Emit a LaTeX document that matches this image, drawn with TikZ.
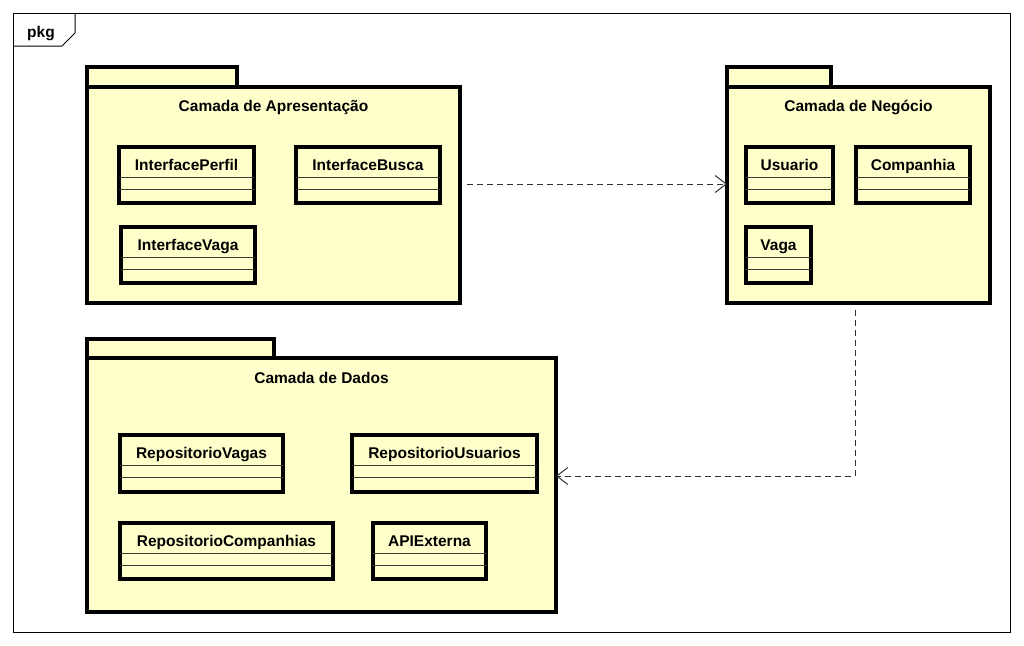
\documentclass[tikz,border=0pt]{standalone}
\usepackage{fontspec}
\setmainfont{Liberation Sans}
\usetikzlibrary{arrows.meta}
\definecolor{pkgfill}{RGB}{255,255,204}
\definecolor{depline}{RGB}{50,50,50}
\definecolor{divcol}{RGB}{60,60,50}
\tikzset{
  lbl/.style={font=\bfseries\fontsize{15.5}{17}\selectfont, inner sep=0pt, anchor=base},
  pkgbody/.style={draw=black, fill=pkgfill, line width=3.2pt, inner sep=0pt, outer sep=0pt, anchor=north west},
  pkgtab/.style={draw=black, fill=pkgfill, line width=3.2pt},
  clsbox/.style={draw=black, fill=pkgfill, line width=3.2pt, inner sep=0pt, outer sep=0pt, anchor=north west},
  divline/.style={draw=divcol, line width=1pt},
  dep/.style={draw=depline, line width=1pt, dash pattern=on 6pt off 4pt, -{Straight Barb[length=11pt,width=17pt,line width=1pt]}},
}
\newcommand{\umlcls}[6]{%
  \node[clsbox, minimum width={#4pt-#2pt}, minimum height={#5pt-#3pt}] (#1) at (#2,#3) {};
  \draw[divline] ([yshift=-30pt]#1.north west) -- ([yshift=-30pt]#1.north east);
  \draw[divline] ([yshift=-42pt]#1.north west) -- ([yshift=-42pt]#1.north east);
  \node[lbl] (#1-name) at ([yshift=-23.5pt]#1.north) {#6};
}
\begin{document}
\begin{tikzpicture}[x=1pt,y=-1pt]
\useasboundingbox (0,0) rectangle (1024,645);
\fill[white] (0,0) rectangle (1024,645);
% frame
\node[draw=black, line width=1pt, inner sep=0pt, outer sep=0pt, anchor=north west, minimum width=997pt, minimum height=619pt] (frame) at (13,13) {};
\draw[line width=1pt] (13,46) -- (62,46) -- (75,33) -- (75,13);
\node[lbl] (pkg) at (41,37) {pkg};

% Camada de Apresentacao
\draw[pkgtab] (87,67) rectangle (237,87);
\node[pkgbody, minimum width=373pt, minimum height=216pt] (apres) at (87,87) {};
\node[lbl] (apres-title) at (273.5,111) {Camada de Apresentação};
\umlcls{iperfil}{119}{147}{254}{203}{InterfacePerfil}
\umlcls{ibusca}{296}{147}{440}{203}{InterfaceBusca}
\umlcls{ivaga}{121}{227}{255}{283}{InterfaceVaga}

% Camada de Negocio
\draw[pkgtab] (727,67) rectangle (831,87);
\node[pkgbody, minimum width=263pt, minimum height=216pt] (negocio) at (727,87) {};
\node[lbl] (negocio-title) at (858.5,111) {Camada de Negócio};
\umlcls{usuario}{746}{147}{833}{203}{Usuario}
\umlcls{companhia}{856}{147}{970}{203}{Companhia}
\umlcls{vaga}{746}{227}{811}{283}{Vaga}

% Camada de Dados
\draw[pkgtab] (87,339) rectangle (274,358);
\node[pkgbody, minimum width=469pt, minimum height=254pt] (dados) at (87,358) {};
\node[lbl] (dados-title) at (321.5,383) {Camada de Dados};
\umlcls{rvagas}{120}{435}{283}{492}{RepositorioVagas}
\umlcls{rusuarios}{352}{435}{537}{492}{RepositorioUsuarios}
\umlcls{rcomp}{120}{523}{333}{579}{RepositorioCompanhias}
\umlcls{api}{373}{523}{486}{579}{APIExterna}

% dependencies
\coordinate (a1) at (467,184);
\draw[dep] (a1) -- (negocio.west |- a1);
\coordinate (b1) at (855,310);
\coordinate (b2) at (855,476);
\draw[dep] (b1) -- (b2) -- (dados.east |- b2);
\end{tikzpicture}
\end{document}
